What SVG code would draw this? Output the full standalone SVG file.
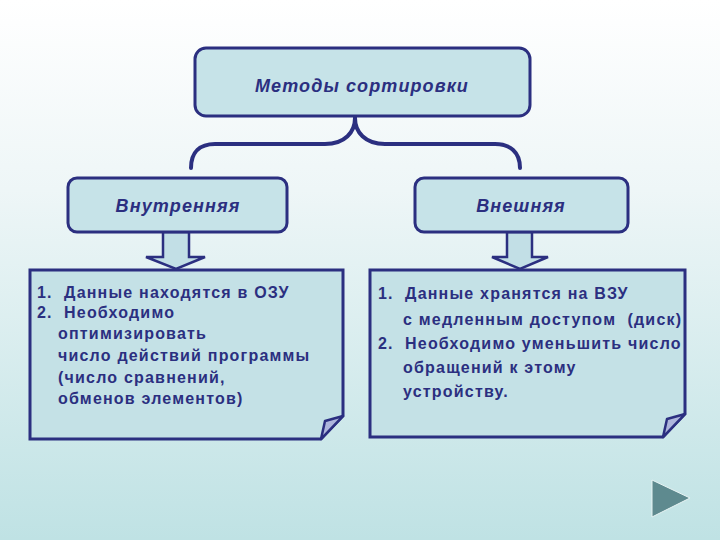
<svg xmlns="http://www.w3.org/2000/svg" width="720" height="540" viewBox="0 0 720 540">
<defs>
<linearGradient id="bg" x1="0" y1="0" x2="0" y2="1">
<stop offset="0" stop-color="#ffffff"/>
<stop offset="0.35" stop-color="#eef6f7"/>
<stop offset="1" stop-color="#bfe2e4"/>
</linearGradient>
</defs>
<style>
.box{fill:#c6e3e8;stroke:#2b2f80;stroke-width:3}
.note{fill:#c4e1e6;stroke:#2b2f80;stroke-width:3}
.fold{fill:#aeb6dc;stroke:#2b2f80;stroke-width:2.5;stroke-linejoin:round}
.ttl{font-family:"Liberation Sans",Arial,sans-serif;font-weight:bold;font-style:italic;font-size:18px;letter-spacing:1.1px;fill:#2b2f80;text-anchor:middle}
.txt{font-family:"Liberation Sans",Arial,sans-serif;font-weight:bold;font-size:16px;letter-spacing:1.2px;fill:#2b2f80;white-space:pre}
.brace{fill:none;stroke:#2b2f80;stroke-width:4;stroke-linecap:round}
.arr{fill:#c2dfe6;stroke:#2b2f80;stroke-width:2.5;stroke-linejoin:miter}
</style>
<rect width="720" height="540" fill="url(#bg)"/>
<g id="connectors">
<path class="brace" d="M355,118 C355,132 345,144 325,144 L215,144 C200,144 191,152 191,168"/>
<path class="brace" d="M355,118 C355,132 365,144 385,144 L495,144 C510,144 520,152 520,168"/>
<path class="arr" d="M163,232 L189,232 L189,257 L205,257 L176,269 L146,257 L163,257 Z"/>
<path class="arr" d="M507,232 L532,232 L532,257 L548,257 L520,269 L492,257 L507,257 Z"/>
</g>
<g id="node-methods">
<rect class="box" x="195" y="48" width="335" height="68" rx="11"/>
<text class="ttl" x="362" y="92">Методы сортировки</text>
</g>
<g id="node-internal">
<rect class="box" x="68" y="178" width="219" height="54" rx="9"/>
<text class="ttl" x="178" y="212">Внутренняя</text>
</g>
<g id="node-external">
<rect class="box" x="415" y="178" width="213" height="54" rx="9"/>
<text class="ttl" x="521" y="212">Внешняя</text>
</g>
<g id="note-internal">
<path class="note" d="M30,270 L343,270 L343,416 L321,439 L30,439 Z"/>
<path class="fold" d="M321,439 L325,421 L343,416 Z"/>
<text class="txt" xml:space="preserve"><tspan x="37" y="298">1.  Данные находятся в ОЗУ</tspan><tspan x="37" y="318">2.  Необходимо</tspan><tspan x="58" y="339">оптимизировать</tspan><tspan x="58" y="361">число действий программы</tspan><tspan x="58" y="383">(число сравнений,</tspan><tspan x="58" y="404">обменов элементов)</tspan></text>
</g>
<g id="note-external">
<path class="note" d="M370,270 L685,270 L685,414 L663,437 L370,437 Z"/>
<path class="fold" d="M663,437 L667,419 L685,414 Z"/>
<text class="txt" xml:space="preserve"><tspan x="378" y="299">1.  Данные хранятся на ВЗУ</tspan><tspan x="403" y="325">с медленным доступом  (диск)</tspan><tspan x="378" y="349">2.  Необходимо уменьшить число</tspan><tspan x="403" y="373">обращений к этому</tspan><tspan x="403" y="397">устройству.</tspan></text>
</g>
<polygon points="652,480 690,498 652,517" fill="#5e8a8f" stroke="#e8f4f4" stroke-width="1"/>
</svg>
